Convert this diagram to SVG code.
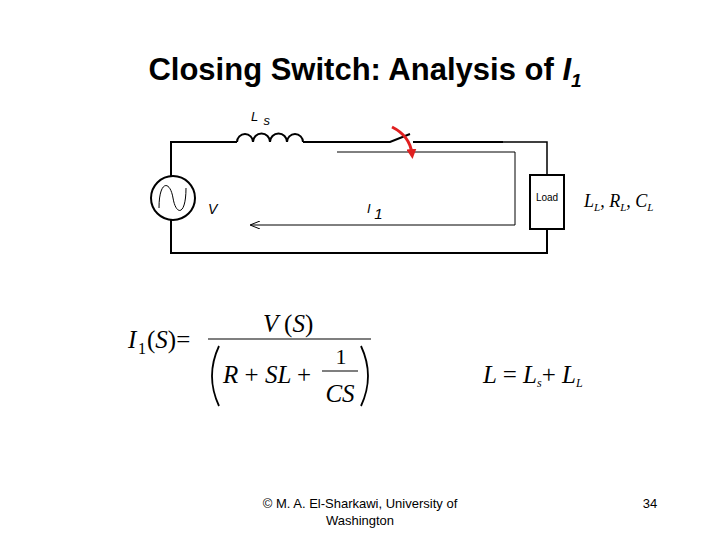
<svg xmlns="http://www.w3.org/2000/svg" width="720" height="540" viewBox="0 0 720 540">
<style>
.w{stroke:#000;stroke-width:2;fill:none}
.t{stroke:#000;stroke-width:1;fill:none}
.s{font-family:"Liberation Sans",Arial,sans-serif}
.m{font-family:"Liberation Serif","Times New Roman",serif}
</style>
<defs>
<marker id="a" markerWidth="10" markerHeight="8" refX="9" refY="4" orient="auto" markerUnits="userSpaceOnUse"><path d="M0,0 L10,4 L0,8" fill="none" stroke="#000"/></marker>
<marker id="r" markerWidth="10" markerHeight="10" refX="5" refY="5" orient="auto" markerUnits="userSpaceOnUse"><path d="M0,0 L10,5 L0,10 Z" fill="#e02020"/></marker>
</defs>
<rect width="720" height="540" fill="#fff"/>
<text class="s" x="365" y="80" font-size="31" font-weight="bold" text-anchor="middle">Closing Switch: Analysis of <tspan font-style="italic">I</tspan><tspan font-style="italic" font-size="19" dy="7">1</tspan></text>
<g id="connectors">
<path class="w" d="M171,176 V142 H237 M303,142 H390 L410,134 M413,142 H503"/>
<path d="M503,142 H547 V175" stroke="#000" stroke-width="1.5" fill="none"/>
<path class="w" d="M547,229 V253 H171 V220"/>
<path class="w" d="M237,142 a8,8 0 0 1 16,0 a8,8 0 0 1 17,0 a8,8 0 0 1 17,0 a8,8 0 0 1 16,0"/>
<path class="t" d="M337,152 H515 V225 H251" marker-end="url(#a)"/>
<path d="M392,127 Q410,136 412,154" stroke="#e02020" stroke-width="3" fill="none" marker-end="url(#r)"/>
</g>
<g id="source">
<circle cx="173" cy="198" r="22" class="w"/>
<path class="t" stroke-width="1.5" d="M159,208 C159,180 170,180 173,198 C176,216 186,216 186,188"/>
</g>
<g id="load">
<rect x="530" y="175" width="34" height="54" class="w" fill="#fff"/>
<text class="s" x="547" y="201" font-size="10" text-anchor="middle">Load</text>
</g>
<g id="labels">
<text class="s" x="251" y="121" font-size="13" font-style="italic">L <tspan dx="2" dy="4">s</tspan></text>
<text class="s" x="208" y="214" font-size="14" font-style="italic">V</text>
<text class="s" x="367" y="213" font-size="13" font-style="italic">I <tspan dy="6" font-size="15">1</tspan></text>
<text class="m" x="584" y="207" font-size="18" font-style="italic">L<tspan font-size="11" dy="4">L</tspan><tspan dy="-4">, R</tspan><tspan font-size="11" dy="4">L</tspan><tspan dy="-4">, C</tspan><tspan font-size="11" dy="4">L</tspan></text>
</g>
<g id="equations" class="m">
<text x="128" y="348" font-size="25" font-style="italic">I</text>
<text x="138" y="354" font-size="16">1</text>
<text x="147" y="348" font-size="25">(<tspan font-style="italic">S</tspan>)=</text>
<text x="263" y="332" font-size="25" font-style="italic">V <tspan font-style="normal">(</tspan>S<tspan font-style="normal">)</tspan></text>
<line x1="208" y1="339" x2="371" y2="339" stroke="#000" stroke-width="1.2"/>
<path d="M219,346 Q205,376 219,406" stroke="#000" stroke-width="1.8" fill="none"/>
<path d="M361,346 Q375,376 361,406" stroke="#000" stroke-width="1.8" fill="none"/>
<text x="223" y="383" font-size="25" font-style="italic">R <tspan font-style="normal">+</tspan> SL <tspan font-style="normal">+</tspan></text>
<text x="341" y="364" font-size="22" text-anchor="middle">1</text>
<line x1="322" y1="371" x2="358" y2="371" stroke="#000" stroke-width="1.2"/>
<text x="340" y="402" font-size="25" font-style="italic" text-anchor="middle">CS</text>
<text x="483" y="383" font-size="25" font-style="italic">L <tspan font-style="normal">=</tspan> L<tspan font-size="12" dy="4">s</tspan><tspan font-style="normal" dy="-4">+</tspan> L<tspan font-size="12" dy="4">L</tspan></text>
</g>
<g id="footer" class="s" font-size="13">
<text x="360" y="508" text-anchor="middle">© M. A. El-Sharkawi, University of</text>
<text x="360" y="525" text-anchor="middle">Washington</text>
<text x="650" y="508" text-anchor="middle">34</text>
</g>
</svg>
